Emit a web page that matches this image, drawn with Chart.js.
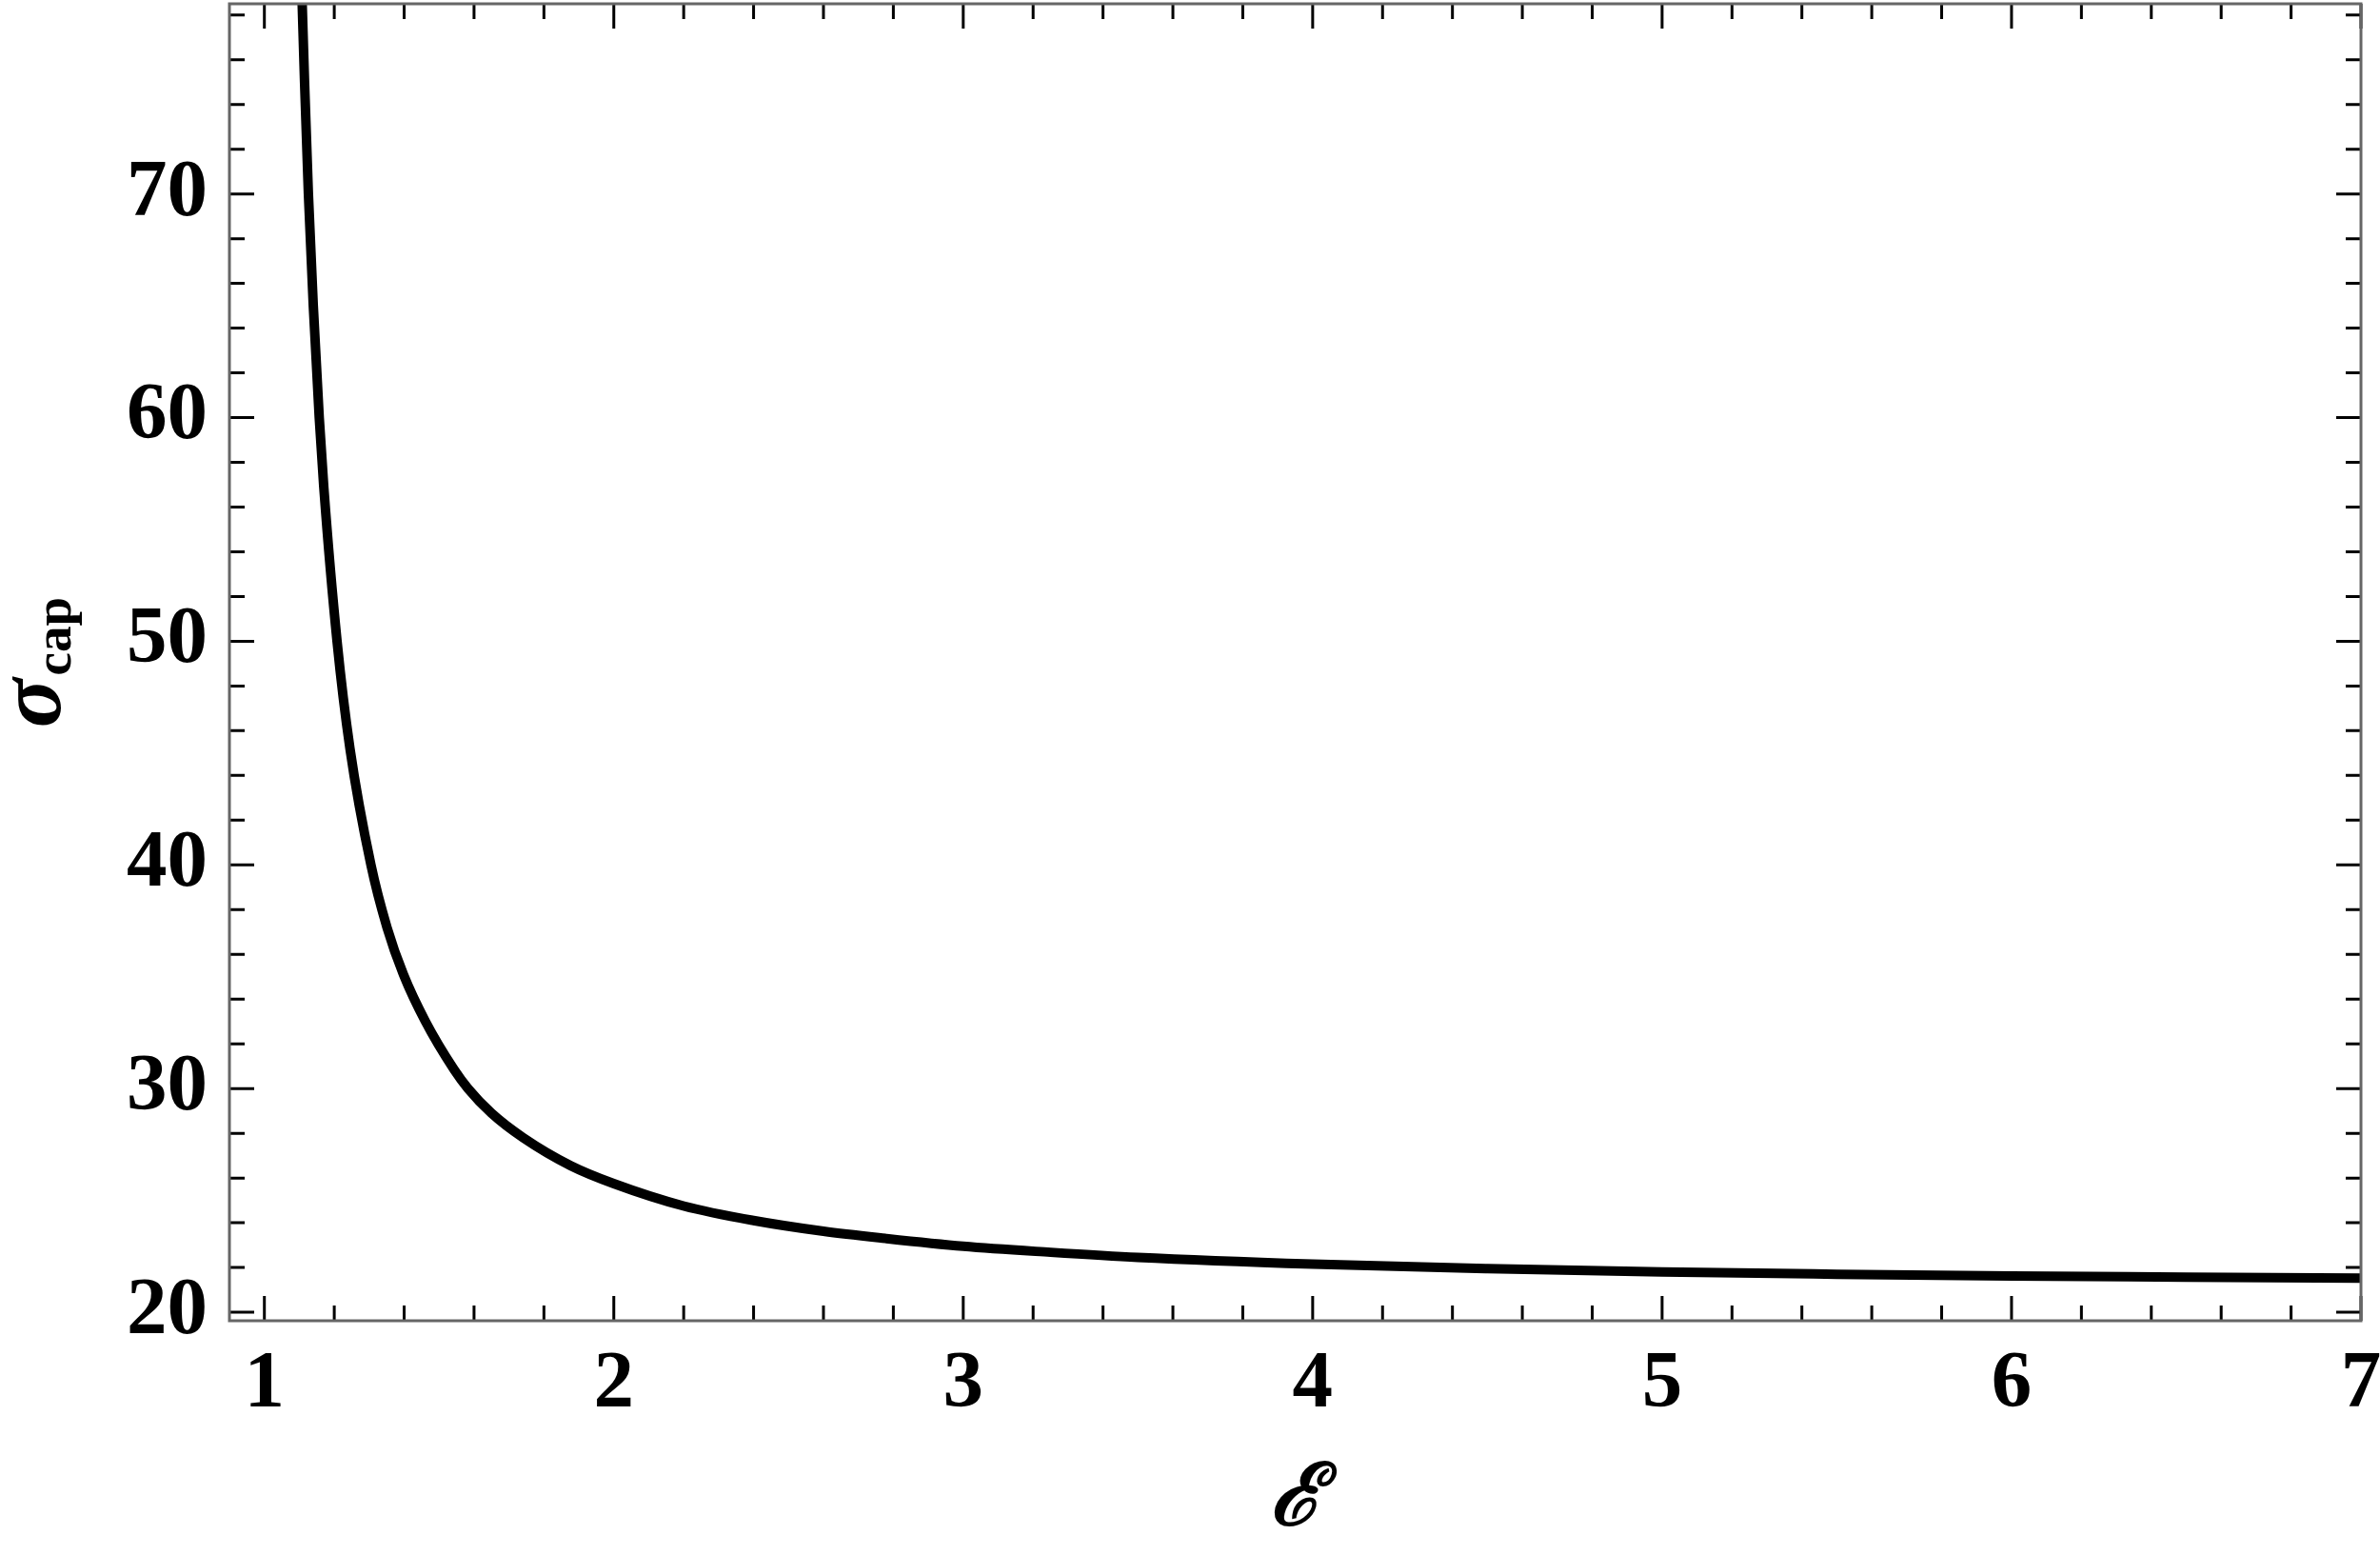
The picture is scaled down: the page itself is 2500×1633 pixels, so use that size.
<!DOCTYPE html>
<html>
<head>
<meta charset="utf-8">
<script src="https://cdn.jsdelivr.net/npm/chart.js@4.4.1/dist/chart.umd.min.js"></script>
<style>
  html, body { margin: 0; padding: 0; background: #fff; }
  #wrap { width: 2500px; height: 1633px; }
</style>
</head>
<body>
<div id="wrap"><canvas id="chartSigma"></canvas></div>
<script>
// values
const epsValues   = [1.108, 1.115, 1.126, 1.140, 1.157, 1.170, 1.208, 1.245, 1.305, 1.351, 1.398, 1.461, 1.543, 1.583, 1.650, 1.741, 1.877, 2.0, 2.2, 2.4, 2.6, 2.777, 3.0, 3.25, 3.5, 4.0, 4.5, 5.0, 5.5, 6.0, 6.5, 7.0];
const sigmaValues = [78.6, 75.0, 70.0, 65.0, 60.0, 56.9, 50.0, 45.2, 40.0, 37.2, 35.1, 33.0, 30.85, 30.0, 28.9, 27.8, 26.55, 25.75, 24.75, 24.1, 23.62, 23.3, 22.95, 22.68, 22.45, 22.15, 21.95, 21.8, 21.7, 21.62, 21.57, 21.52];
const xTickLabels = [1, 2, 3, 4, 5, 6, 7];
const yTickLabels = [20, 30, 40, 50, 60, 70];
const xRange = [0.9, 7];
const yRange = [19.62, 78.5];
const xTitle = 'ℰ';
const yTitleMain = 'σ';
const yTitleSub = 'cap';

const tickFont = { family: 'Liberation Serif', weight: 'bold', size: 85 };

// frame + inward ticks on all four sides
const frameTicks = {
  id: 'frameTicks',
  afterDatasetsDraw(chart) {
    const { ctx, chartArea: a, scales: { x, y } } = chart;
    ctx.save();
    ctx.lineWidth = 3;
    ctx.strokeStyle = '#000';
    ctx.beginPath();
    for (let i = 0; i <= 30; i++) {
      const px = x.getPixelForValue(1 + i * 0.2);
      const len = i % 5 === 0 ? 26 : 16;
      ctx.moveTo(px, a.bottom); ctx.lineTo(px, a.bottom - len);
      ctx.moveTo(px, a.top); ctx.lineTo(px, a.top + len);
    }
    for (let v = 20; v <= 78; v += 2) {
      const py = y.getPixelForValue(v);
      const len = v % 10 === 0 ? 26 : 16;
      ctx.moveTo(a.left, py); ctx.lineTo(a.left + len, py);
      ctx.moveTo(a.right, py); ctx.lineTo(a.right - len, py);
    }
    ctx.stroke();
    ctx.strokeStyle = '#666';
    ctx.strokeRect(a.left, a.top, a.width, a.height);
    ctx.restore();
  }
};

// sigma with subscript, rotated
const yTitlePlugin = {
  id: 'yTitlePlugin',
  afterDraw(chart) {
    const { ctx, chartArea: a } = chart;
    const big = 'italic bold 96px "Liberation Serif"';
    const small = 'bold 55px "Liberation Serif"';
    ctx.save();
    ctx.fillStyle = '#000';
    ctx.textAlign = 'left';
    ctx.textBaseline = 'alphabetic';
    ctx.font = big;
    const w1 = ctx.measureText(yTitleMain).width;
    ctx.font = small;
    const w2 = ctx.measureText(yTitleSub).width;
    const gap = 3;
    const cy = (a.top + a.bottom) / 2;
    ctx.translate(63, cy + (w1 + gap + w2) / 2);
    ctx.rotate(-Math.PI / 2);
    ctx.font = big;
    ctx.fillText(yTitleMain, 0, 0);
    ctx.font = small;
    ctx.fillText(yTitleSub, w1 + gap, 11);
    ctx.restore();
  }
};

function chartSigma () {
  const ctx = document.getElementById('chartSigma');
  new Chart(ctx, {
    type: 'scatter',
    data: {
      datasets: [{
        data: epsValues.map((e, i) => ({ x: e, y: sigmaValues[i] })),
        showLine: true,
        borderColor: '#000',
        borderWidth: 10,
        pointRadius: 0,
        cubicInterpolationMode: 'monotone',
        clip: 0
      }]
    },
    options: {
      responsive: true,
      maintainAspectRatio: false,
      devicePixelRatio: 1,
      animation: false,
      layout: { padding: { top: 4, right: 20, left: 0, bottom: 0 } },
      plugins: {
        legend: { display: false },
        tooltip: { enabled: false }
      },
      scales: {
        x: {
          type: 'linear',
          min: xRange[0],
          max: xRange[1],
          grid: { display: false, drawTicks: false },
          border: { display: false },
          afterBuildTicks: (s) => { s.ticks = xTickLabels.map(v => ({ value: v })); },
          afterFit: (s) => { s.height = 246; s.paddingLeft = 0; s.paddingRight = 0; },
          ticks: { font: tickFont, color: '#000', padding: 17, maxRotation: 0 },
          title: {
            display: true,
            text: xTitle,
            color: '#000',
            font: { family: 'Liberation Serif', style: 'italic', weight: 'bold', size: 90, lineHeight: 1 },
            padding: { top: 0, bottom: 10 }
          }
        },
        y: {
          type: 'linear',
          min: yRange[0],
          max: yRange[1],
          grid: { display: false, drawTicks: false },
          border: { display: false },
          afterBuildTicks: (s) => { s.ticks = yTickLabels.map(v => ({ value: v })); },
          afterFit: (s) => { s.width = 241; s.paddingTop = 0; s.paddingBottom = 0; },
          ticks: { font: tickFont, color: '#000', padding: 23 }
        }
      }
    },
    plugins: [frameTicks, yTitlePlugin]
  });
}

chartSigma();
</script>
</body>
</html>
